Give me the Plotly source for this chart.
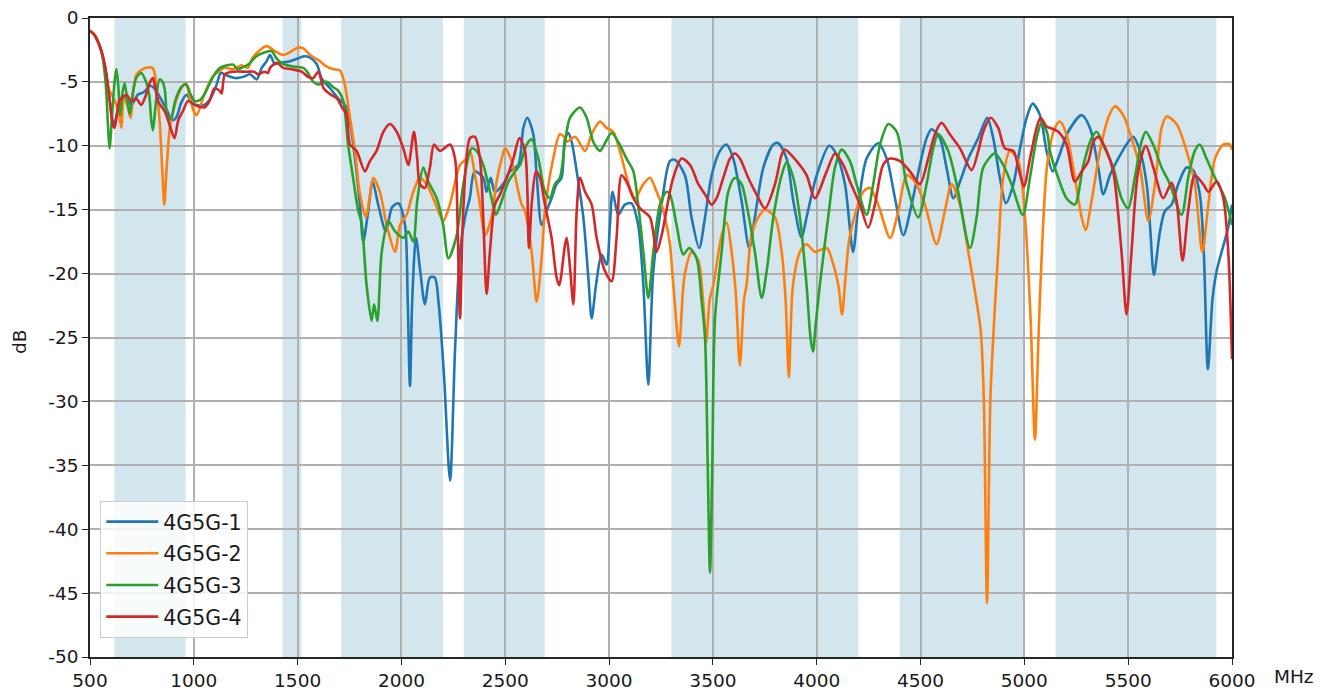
import plotly.graph_objects as go

# ---------------- data ----------------
series_names = ["4G5G-1", "4G5G-2", "4G5G-3", "4G5G-4"]
series_colors = ["#1f77b4", "#ff7f0e", "#2ca02c", "#d62728"]

# shaded frequency bands (MHz)
band_starts = [617, 1427, 1710, 2300, 3300, 4400, 5150]
band_ends = [960, 1518, 2200, 2690, 4200, 5000, 5925]

x_ticks = [500, 1000, 1500, 2000, 2500, 3000, 3500, 4000, 4500, 5000, 5500, 6000]
y_ticks = [0, -5, -10, -15, -20, -25, -30, -35, -40, -45, -50]

f1 = [500, 520, 555, 580, 598, 615, 635, 652, 670, 700, 730, 760, 790, 810, 840, 870, 895, 915, 940, 965,
      990, 1014, 1050, 1080, 1110, 1130, 1160, 1200, 1240, 1270, 1303, 1327, 1350, 1367, 1390, 1415, 1460,
      1511, 1530, 1560, 1592, 1615, 1656, 1696, 1728, 1750, 1768, 1800, 1816, 1840, 1861, 1888, 1925, 1955,
      1985, 2017, 2030, 2041, 2052, 2070, 2089, 2113, 2137, 2160, 2180, 2205, 2234, 2258, 2282, 2306, 2330,
      2352, 2394, 2410, 2430, 2450, 2490, 2523, 2563, 2587, 2606, 2635, 2651, 2675, 2699, 2723, 2747, 2771,
      2788, 2804, 2820, 2844, 2876, 2900, 2916, 2937, 2964, 2988, 3004, 3017, 3044, 3076, 3108, 3140, 3165,
      3189, 3212, 3253, 3293, 3317, 3365, 3397, 3434, 3462, 3494, 3534, 3566, 3598, 3638, 3675, 3702, 3743,
      3791, 3815, 3855, 3887, 3927, 3951, 4000, 4060, 4096, 4136, 4175, 4200, 4240, 4296, 4337, 4377, 4417,
      4457, 4497, 4529, 4553, 4593, 4625, 4658, 4690, 4730, 4778, 4821, 4850, 4882, 4911, 4947, 4979, 5011,
      5040, 5075, 5107, 5136, 5163, 5211, 5276, 5316, 5356, 5380, 5412, 5452, 5500, 5524, 5557, 5589, 5605,
      5624, 5653, 5677, 5709, 5741, 5781, 5813, 5845, 5864, 5884, 5906, 5926, 5950, 5980, 6000]
db1 = [-1.0, -1.3, -2.6, -4.5, -6.8, -8.4, -7.2, -6.5, -6.2, -6.8, -6.0, -5.8, -5.3, -5.5, -6.3, -7.2, -8.0,
       -7.8, -6.6, -6.0, -6.6, -6.8, -6.8, -6.3, -5.2, -4.3, -4.5, -4.7, -4.6, -4.4, -4.8, -3.9, -3.4, -2.9,
       -3.6, -3.5, -3.4, -3.1, -3.0, -3.1, -3.6, -4.7, -5.5, -6.3, -6.8, -8.0, -9.9, -14.6, -17.5, -15.1,
       -12.8, -14.6, -16.7, -14.8, -14.5, -16.2, -22.0, -28.8, -22.0, -17.2, -19.6, -22.4, -20.3, -20.3,
       -22.5, -28.0, -36.2, -26.0, -18.3, -15.6, -14.0, -12.0, -12.5, -13.6, -12.5, -13.6, -13.0, -12.0,
       -11.5, -8.6, -7.8, -9.1, -12.3, -16.2, -15.1, -14.1, -13.0, -12.5, -9.4, -9.0, -9.7, -12.0, -15.6,
       -20.3, -23.5, -20.9, -18.5, -19.3, -16.2, -13.6, -15.4, -14.6, -14.5, -16.2, -20.9, -28.7, -20.0,
       -14.6, -11.2, -11.1, -12.3, -15.6, -18.0, -15.6, -12.3, -10.4, -9.9, -11.0, -14.3, -18.0, -15.6,
       -11.7, -9.9, -9.8, -11.0, -14.3, -17.2, -15.6, -12.3, -10.0, -10.7, -13.0, -18.3, -14.8, -11.0, -9.8,
       -11.0, -14.1, -17.0, -14.6, -11.5, -9.4, -8.7, -9.4, -11.7, -14.1, -12.8, -11.0, -9.4, -7.8, -9.4,
       -12.5, -14.5, -13.0, -10.2, -7.8, -6.7, -7.6, -10.4, -12.0, -11.0, -8.9, -7.6, -8.6, -11.7, -13.8,
       -12.3, -11.0, -9.7, -9.3, -10.4, -13.0, -16.2, -20.1, -16.7, -15.1, -14.6, -13.0, -11.7, -11.9, -13.8,
       -18.3, -27.5, -22.0, -19.8, -18.3, -16.5, -14.6]

f2 = [500, 520, 555, 590, 620, 640, 652, 662, 680, 695, 710, 725, 745, 770, 800, 810, 820, 835, 850, 858,
      868, 885, 900, 930, 960, 980, 1000, 1014, 1050, 1090, 1118, 1150, 1190, 1230, 1260, 1280, 1319, 1351,
      1390, 1431, 1460, 1490, 1511, 1530, 1560, 1600, 1640, 1670, 1704, 1727, 1752, 1776, 1800, 1829, 1847,
      1864, 1896, 1929, 1969, 1993, 2025, 2057, 2089, 2121, 2153, 2185, 2201, 2233, 2282, 2314, 2330, 2354,
      2378, 2402, 2434, 2458, 2483, 2499, 2531, 2563, 2579, 2595, 2627, 2651, 2675, 2691, 2731, 2763, 2788,
      2796, 2836, 2884, 2916, 2956, 2988, 3020, 3052, 3100, 3125, 3165, 3197, 3229, 3253, 3277, 3293, 3310,
      3337, 3355, 3365, 3397, 3430, 3453, 3467, 3485, 3502, 3542, 3566, 3590, 3610, 3630, 3650, 3662, 3686,
      3726, 3751, 3799, 3831, 3850, 3866, 3885, 3919, 3951, 3991, 4048, 4080, 4105, 4122, 4140, 4160, 4224,
      4256, 4296, 4353, 4393, 4433, 4473, 4521, 4577, 4617, 4650, 4690, 4730, 4762, 4790, 4805, 4820, 4836,
      4850, 4874, 4898, 4930, 4971, 5003, 5030, 5051, 5068, 5085, 5110, 5147, 5171, 5203, 5235, 5276, 5295,
      5324, 5364, 5404, 5436, 5476, 5516, 5557, 5597, 5629, 5661, 5685, 5733, 5781, 5821, 5857, 5886, 5918,
      5958, 5990, 6000]
db2 = [-1.0, -1.3, -2.6, -5.5, -6.5, -7.5, -8.6, -6.3, -6.8, -7.8, -5.5, -4.4, -4.1, -3.9, -3.9, -4.2, -5.5,
       -8.0, -12.5, -14.6, -12.0, -8.5, -7.3, -5.8, -5.1, -6.2, -7.3, -7.6, -6.0, -4.6, -4.2, -3.9, -4.0, -3.7,
       -3.9, -3.2, -2.5, -2.2, -2.6, -2.9, -2.7, -2.4, -2.3, -2.4, -2.9, -3.3, -3.8, -4.0, -4.1, -5.2, -7.8,
       -10.4, -13.8, -15.6, -14.0, -12.5, -13.6, -16.2, -18.3, -16.2, -15.4, -13.6, -12.5, -13.0, -14.1,
       -15.4, -15.9, -14.6, -11.5, -11.0, -10.4, -12.3, -14.6, -17.0, -15.6, -12.8, -11.0, -10.2, -11.2,
       -13.6, -14.6, -15.1, -18.3, -22.2, -18.8, -15.1, -11.0, -9.1, -9.4, -9.7, -9.3, -10.4, -9.1, -8.1,
       -8.6, -8.9, -10.4, -13.3, -14.1, -13.0, -12.5, -13.6, -14.6, -16.2, -17.7, -21.0, -25.7, -21.5, -20.0,
       -18.3, -19.0, -22.2, -25.4, -22.0, -20.9, -17.0, -16.0, -18.3, -21.5, -27.2, -22.0, -20.9, -17.0,
       -15.4, -15.0, -15.6, -18.3, -22.0, -28.1, -21.0, -18.3, -17.7, -18.3, -18.0, -19.3, -21.0, -23.2,
       -20.0, -17.0, -13.6, -13.3, -14.6, -17.2, -15.1, -12.3, -12.8, -14.6, -17.7, -15.1, -13.0, -14.6,
       -18.3, -21.4, -24.5, -30.0, -45.8, -30.0, -25.0, -18.3, -12.5, -10.4, -11.2, -15.6, -23.5, -33.0,
       -25.0, -18.0, -11.5, -8.6, -8.1, -9.1, -11.7, -15.6, -16.6, -14.3, -10.4, -7.8, -6.9, -7.6, -9.4,
       -11.7, -15.9, -13.0, -8.6, -7.7, -8.3, -10.4, -13.0, -18.3, -14.6, -11.0, -9.9, -9.9, -10.3]

f3 = [500, 520, 555, 575, 587, 594, 605, 618, 627, 637, 646, 657, 667, 680, 691, 705, 720, 731, 747, 770,
      785, 795, 803, 815, 835, 850, 860, 875, 890, 910, 940, 964, 985, 1004, 1030, 1050, 1080, 1100, 1126,
      1160, 1190, 1210, 1230, 1265, 1300, 1340, 1375, 1400, 1430, 1480, 1527, 1545, 1576, 1600, 1640, 1670,
      1696, 1720, 1743, 1767, 1792, 1808, 1832, 1856, 1868, 1884, 1905, 1937, 1969, 2009, 2033, 2057, 2076,
      2105, 2129, 2170, 2201, 2226, 2266, 2298, 2338, 2362, 2394, 2434, 2455, 2483, 2515, 2547, 2571, 2603,
      2627, 2659, 2691, 2715, 2739, 2763, 2788, 2812, 2860, 2892, 2924, 2956, 2980, 3012, 3044, 3084, 3117,
      3140, 3165, 3189, 3213, 3245, 3277, 3293, 3325, 3357, 3386, 3421, 3446, 3462, 3475, 3486, 3497, 3510,
      3542, 3574, 3606, 3638, 3662, 3702, 3735, 3759, 3791, 3831, 3855, 3887, 3919, 3951, 3970, 3982, 3995,
      4015, 4055, 4088, 4120, 4160, 4192, 4240, 4272, 4305, 4345, 4385, 4433, 4489, 4529, 4561, 4585, 4633,
      4674, 4738, 4770, 4802, 4858, 4898, 4938, 4992, 5027, 5059, 5083, 5110, 5123, 5163, 5203, 5243, 5284,
      5324, 5348, 5388, 5428, 5468, 5500, 5532, 5564, 5585, 5620, 5661, 5701, 5757, 5789, 5821, 5845, 5877,
      5918, 5966, 6000]
db3 = [-1.0, -1.3, -2.6, -5.0, -8.5, -10.2, -8.0, -5.0, -4.0, -5.5, -7.6, -5.8, -5.1, -6.5, -7.5, -6.0, -4.8,
       -4.5, -4.3, -5.0, -6.0, -8.0, -8.8, -7.0, -4.8, -5.0, -5.6, -7.8, -7.9, -6.5, -5.4, -5.2, -6.0, -6.5,
       -6.4, -6.0, -5.0, -4.4, -3.9, -3.7, -3.65, -4.0, -3.9, -3.6, -3.0, -2.7, -2.6, -3.2, -3.6, -3.8, -3.9,
       -4.2, -5.0, -5.2, -5.0, -5.4, -5.7, -6.5, -9.9, -12.5, -15.1, -16.0, -20.9, -23.7, -22.4, -23.7, -18.3,
       -15.9, -16.7, -17.2, -16.7, -17.5, -14.3, -11.7, -12.8, -14.1, -16.2, -18.8, -17.0, -13.0, -10.2,
       -10.4, -11.5, -14.1, -15.4, -14.3, -12.8, -12.0, -11.5, -9.9, -9.5, -11.0, -13.6, -14.1, -13.0, -12.5,
       -9.7, -7.8, -7.0, -7.8, -9.7, -10.4, -9.8, -9.0, -9.7, -11.0, -12.0, -14.6, -18.3, -21.9, -18.3,
       -14.6, -13.6, -13.8, -16.2, -18.5, -18.0, -18.8, -22.2, -25.0, -35.0, -43.4, -35.0, -23.5, -18.3,
       -13.6, -12.5, -13.0, -14.6, -18.3, -21.9, -19.8, -15.6, -12.3, -11.3, -12.5, -15.6, -20.9, -25.0,
       -26.1, -24.0, -20.9, -15.6, -11.7, -10.3, -11.2, -13.0, -15.4, -13.0, -9.9, -8.3, -8.9, -13.0, -15.6,
       -13.0, -10.2, -9.1, -10.4, -13.0, -18.0, -15.6, -11.7, -10.6, -11.5, -13.0, -15.4, -12.5, -9.4, -8.2,
       -9.0, -10.4, -12.5, -14.1, -14.6, -11.5, -9.4, -8.9, -10.2, -11.7, -14.1, -14.9, -12.5, -9.7, -8.9,
       -9.9, -11.7, -13.0, -15.4, -12.5, -10.4, -9.9, -11.0, -12.5, -14.1, -16.2]

f4 = [500, 520, 555, 575, 595, 610, 618, 630, 640, 650, 675, 700, 722, 747, 770, 790, 803, 815, 830, 860,
      880, 907, 925, 947, 972, 1004, 1020, 1052, 1075, 1100, 1124, 1134, 1150, 1190, 1255, 1290, 1310, 1340,
      1357, 1367, 1400, 1430, 1470, 1519, 1550, 1575, 1600, 1625, 1660, 1690, 1714, 1735, 1752, 1784, 1824,
      1848, 1880, 1913, 1945, 1977, 2009, 2033, 2060, 2076, 2089, 2113, 2137, 2157, 2185, 2234, 2258, 2270,
      2282, 2298, 2330, 2354, 2378, 2394, 2410, 2426, 2450, 2475, 2507, 2539, 2568, 2595, 2614, 2627, 2648,
      2667, 2691, 2723, 2747, 2760, 2788, 2796, 2812, 2828, 2844, 2860, 2884, 2916, 2940, 2980, 3012, 3036,
      3060, 3084, 3117, 3149, 3197, 3229, 3253, 3293, 3309, 3349, 3390, 3430, 3462, 3494, 3518, 3550, 3582,
      3606, 3630, 3670, 3710, 3751, 3799, 3831, 3847, 3903, 3951, 3991, 4048, 4088, 4128, 4160, 4208, 4248,
      4280, 4320, 4353, 4401, 4449, 4497, 4537, 4569, 4601, 4641, 4690, 4746, 4778, 4802, 4837, 4874, 4906,
      4947, 4971, 4998, 5027, 5059, 5078, 5107, 5123, 5163, 5203, 5243, 5276, 5308, 5332, 5356, 5396, 5428,
      5468, 5492, 5516, 5548, 5585, 5621, 5669, 5709, 5733, 5762, 5789, 5821, 5861, 5886, 5926, 5958, 5982,
      6000]
db4 = [-1.0, -1.3, -2.6, -4.0, -6.5, -8.4, -8.6, -7.5, -6.5, -6.3, -6.0, -6.5, -6.3, -6.8, -6.0, -5.0, -4.7,
       -5.5, -6.6, -7.3, -8.2, -9.4, -8.0, -7.3, -6.5, -6.8, -6.9, -7.0, -6.5, -5.5, -5.7, -5.9, -4.4, -4.2,
       -4.2, -4.2, -4.4, -4.2, -4.3, -3.9, -3.5, -3.9, -4.0, -4.2, -4.6, -4.7, -4.2, -5.5, -6.0, -6.3, -7.0,
       -7.5, -9.9, -10.4, -12.0, -11.2, -10.4, -8.9, -8.3, -8.9, -10.2, -11.5, -8.9, -11.0, -13.0, -13.3,
       -11.7, -9.9, -10.4, -9.9, -11.0, -16.0, -23.5, -14.9, -9.4, -9.3, -11.0, -15.6, -21.6, -18.3, -14.6,
       -13.8, -12.5, -11.0, -9.4, -10.4, -18.0, -14.6, -12.0, -12.5, -14.6, -17.2, -20.3, -20.9, -17.7,
       -17.2, -19.6, -22.4, -15.1, -12.5, -13.6, -14.6, -17.2, -19.8, -20.6, -17.2, -12.3, -12.8, -14.1,
       -14.9, -15.6, -18.3, -17.0, -13.6, -12.5, -11.0, -11.5, -13.0, -13.8, -14.6, -14.1, -12.5, -11.0,
       -10.6, -11.0, -12.5, -13.8, -14.9, -13.0, -10.7, -10.3, -11.2, -12.3, -14.1, -12.0, -10.6, -11.5,
       -12.8, -14.6, -16.4, -14.6, -11.5, -11.0, -11.2, -12.0, -13.0, -11.0, -9.1, -8.2, -9.1, -10.2, -11.9,
       -10.4, -8.9, -7.8, -8.6, -10.2, -10.4, -11.7, -13.2, -11.0, -8.6, -7.8, -8.5, -8.6, -8.9, -9.9, -12.8,
       -12.0, -11.2, -9.7, -9.3, -10.4, -12.0, -18.3, -23.2, -18.3, -12.0, -10.0, -11.7, -14.1, -12.9, -14.3,
       -19.0, -15.1, -12.3, -13.0, -13.6, -12.8, -14.1, -18.3, -26.7]

freqs = [f1, f2, f3, f4]
values = [db1, db2, db3, db4]

# ---------------- figure ----------------
fig = go.Figure()

for s, e in zip(band_starts, band_ends):
    fig.add_vrect(x0=s, x1=e, fillcolor="#d3e6ee", line_width=0, layer="below", opacity=1)

for i, (name, col) in enumerate(zip(series_names, series_colors)):
    fig.add_trace(go.Scatter(
        x=freqs[i], y=values[i], mode="lines", name=name, legendgroup=name,
        line=dict(color=col, width=2.6, shape="spline", smoothing=0.8),
    ))

TXT = "#1a1a1a"
tick_font = dict(family="DejaVu Sans", size=18.5, color=TXT)

# page body adds an 8px margin, so the figure is sized/offset to compensate
fig.update_layout(
    width=1319, height=687,
    margin=dict(l=82, r=95, t=10, b=38, autoexpand=False),
    paper_bgcolor="white", plot_bgcolor="white",
    font=tick_font,
    showlegend=True,
    legend=dict(
        x=0.009, y=0.03, xanchor="left", yanchor="bottom",
        bgcolor="rgba(255,255,255,0.82)", bordercolor="#cccccc", borderwidth=1,
        font=dict(family="DejaVu Sans", size=20.5, color=TXT),
        tracegroupgap=2, itemwidth=52,
    ),
    xaxis=dict(
        range=[500, 6000], tickvals=x_ticks, ticktext=[str(v) for v in x_ticks],
        showgrid=True, gridcolor="#b0b0b0", gridwidth=1.5,
        showline=True, linecolor="#262626", linewidth=1.5, mirror=True,
        ticks="outside", ticklen=6, tickwidth=1.3, tickcolor="#262626",
        zeroline=False, tickfont=tick_font, automargin=False, ticklabeloverflow="allow",
    ),
    yaxis=dict(
        range=[-50, 0], tickvals=y_ticks, ticktext=[str(v) for v in y_ticks],
        showgrid=True, gridcolor="#b0b0b0", gridwidth=1.5,
        showline=True, linecolor="#262626", linewidth=1.5, mirror=True,
        ticks="outside", ticklen=6, tickwidth=1.3, tickcolor="#262626",
        zeroline=False, tickfont=tick_font, automargin=False, ticklabeloverflow="allow",
    ),
)

fig.add_annotation(
    text="dB", xref="paper", yref="paper", x=-0.0613, y=0.493, xanchor="center", yanchor="middle",
    textangle=-90, showarrow=False, font=tick_font,
)
fig.add_annotation(
    text="MHz", xref="paper", yref="paper", x=1.035, y=0, xanchor="left", yanchor="top",
    yshift=-7, showarrow=False, font=tick_font,
)

fig.write_html("out.html")
